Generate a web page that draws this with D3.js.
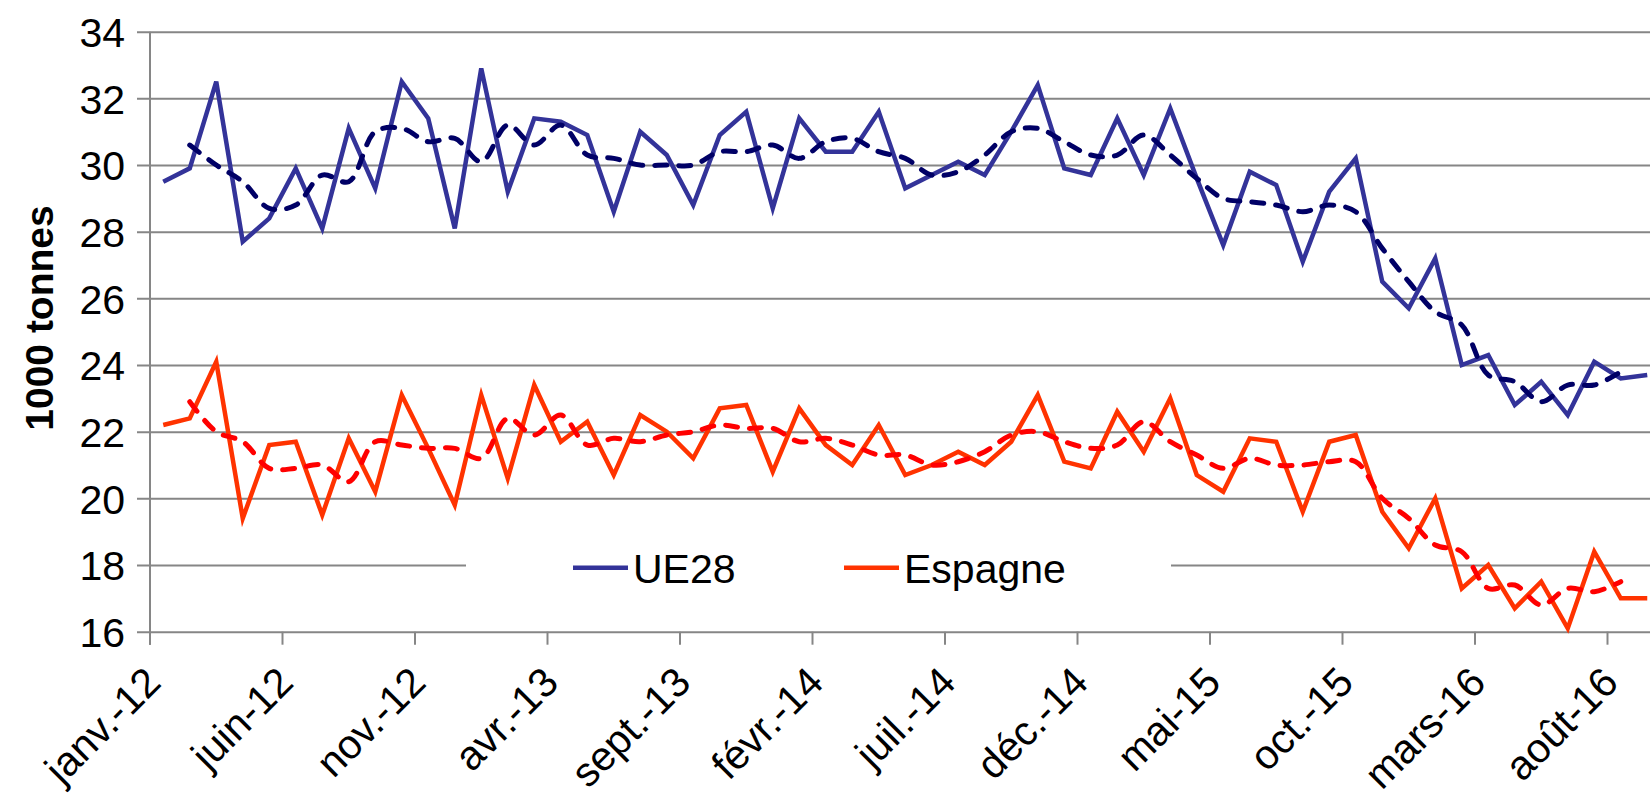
<!DOCTYPE html>
<html>
<head>
<meta charset="utf-8">
<script src="https://cdn.jsdelivr.net/npm/d3@7"></script>
<style>
body { margin: 0; background: #fff; }
svg { display: block; font-family: "Liberation Sans", Arial, sans-serif; }
</style>
</head>
<body>
<script>
/* Data */
var monthNames = ["janv.", "févr.", "mars", "avr.", "mai", "juin", "juil.", "août", "sept.", "oct.", "nov.", "déc."];
var years = ["12", "13", "14", "15", "16"];
var nMonths = 57; // janv.-12 .. sept.-16

var ue28 = [29.5, 29.9, 32.5, 27.7, 28.4, 29.9, 28.1, 31.1, 29.3, 32.5, 31.4, 28.1,
	32.9, 29.2, 31.4, 31.3, 30.9, 28.6, 31.0, 30.3, 28.8, 30.9, 31.6, 28.7,
	31.4, 30.4, 30.4, 31.6, 29.3, 29.7, 30.1, 29.7, 31.0, 32.4, 29.9, 29.7,
	31.4, 29.7, 31.7, 29.6, 27.6, 29.8, 29.4, 27.1, 29.2, 30.2, 26.5, 25.7,
	27.2, 24.0, 24.3, 22.8, 23.5, 22.5, 24.1, 23.6, 23.7];

var espagne = [22.2, 22.4, 24.1, 19.4, 21.6, 21.7, 19.5, 21.8, 20.2, 23.1, 21.5, 19.8,
	23.1, 20.6, 23.4, 21.7, 22.3, 20.7, 22.5, 22.0, 21.2, 22.7, 22.8, 20.8,
	22.7, 21.6, 21.0, 22.2, 20.7, 21.0, 21.4, 21.0, 21.7, 23.1, 21.1, 20.9,
	22.6, 21.4, 23.0, 20.7, 20.2, 21.8, 21.7, 19.6, 21.7, 21.9, 19.6, 18.5,
	20.0, 17.3, 18.0, 16.7, 17.5, 16.1, 18.4, 17.0, 17.0];

// moyennes mobiles (pointillés), de févr.-12 à août-16
var ue28Moy = [30.6, 30.0, 29.5, 28.7, 28.8, 29.7, 29.5, 31.0, 31.1, 30.7, 30.8,
	30.1, 31.2, 30.6, 31.2, 30.3, 30.2, 30.0, 30.0, 30.0, 30.4, 30.4, 30.6,
	30.2, 30.7, 30.8, 30.4, 30.2, 29.7, 29.8, 30.3, 31.0, 31.1, 30.7, 30.3,
	30.3, 30.9, 30.3, 29.6, 29.0, 28.9, 28.8, 28.6, 28.8, 28.6, 27.5, 26.5,
	25.6, 25.2, 23.7, 23.5, 22.9, 23.4, 23.4, 23.8];

var espagneMoy = [22.9, 22.0, 21.7, 20.9, 20.9, 21.0, 20.5, 21.7, 21.6, 21.5, 21.5,
	21.2, 22.4, 21.9, 22.5, 21.6, 21.8, 21.7, 21.9, 22.0, 22.2, 22.1, 22.1,
	21.7, 21.8, 21.6, 21.3, 21.3, 21.0, 21.1, 21.4, 21.9, 22.0, 21.7, 21.5,
	21.6, 22.3, 21.7, 21.3, 20.9, 21.2, 21.0, 21.0, 21.1, 21.1, 20.0, 19.4,
	18.6, 18.4, 17.3, 17.4, 16.8, 17.3, 17.2, 17.5];

var yTicks = [16, 18, 20, 22, 24, 26, 28, 30, 32, 34];
var seriesNames = ["UE28", "Espagne"];

/* Display setup */
var width = 1650, height = 807,
	plot = {left: 150, top: 31.7, bottom: 631.7, monthWidth: 26.5},
	fontSize = 41,
	gridColor = "#868686";

var months = [];
years.forEach(function(y) {
	monthNames.forEach(function(m) { months.push(m + "-" + y); });
});
months = months.slice(0, nMonths);

var x = d3.scaleBand()
	.domain(months)
	.range([plot.left, plot.left + plot.monthWidth * nMonths]);
var y = d3.scaleLinear()
	.domain([16, 34])
	.range([plot.bottom, plot.top]);

function cx(i) { return x(months[i]) + x.bandwidth() / 2; }

var svg = d3.select("body").append("svg")
	.attr("width", width)
	.attr("height", height);

/* Grid + y axis */
var yAxis = svg.append("g")
	.attr("transform", "translate(" + plot.left + ",0)")
	.call(d3.axisLeft(y).tickValues(yTicks).tickSize(-(width - plot.left)).tickPadding(25));
yAxis.select(".domain").remove();
yAxis.selectAll(".tick line")
	.attr("x1", -13)
	.attr("stroke", gridColor)
	.attr("stroke-width", 2);
yAxis.selectAll(".tick text")
	.attr("font-size", fontSize)
	.attr("fill", "#000")
	.attr("font-family", "Liberation Sans, Arial, sans-serif")
	.attr("dy", "0.36em");

svg.append("line")
	.attr("x1", plot.left).attr("x2", plot.left)
	.attr("y1", plot.top).attr("y2", plot.bottom + 13)
	.attr("stroke", gridColor)
	.attr("stroke-width", 2);

/* x axis ticks + labels */
var xTicks = months.filter(function(d, i) { return i % 5 == 0; });
var xAxis = svg.append("g").attr("class", "x-axis");
xAxis.selectAll("line")
	.data(xTicks)
	.enter().append("line")
		.attr("x1", function(d) { return x(d); })
		.attr("x2", function(d) { return x(d); })
		.attr("y1", plot.bottom)
		.attr("y2", plot.bottom + 13)
		.attr("stroke", gridColor)
		.attr("stroke-width", 2);
xAxis.selectAll("text")
	.data(xTicks)
	.enter().append("text")
		.attr("transform", function(d) { return "translate(" + (x(d) + 13) + "," + (plot.bottom + 53) + ") rotate(-45)"; })
		.attr("text-anchor", "end")
		.attr("font-size", 41)
		.text(function(d) { return d; });

/* y title */
svg.append("text")
	.attr("transform", "translate(53,318) rotate(-90)")
	.attr("text-anchor", "middle")
	.attr("font-size", 39)
	.attr("font-weight", "bold")
	.text("1000 tonnes");

/* Legend (white box hides the gridline behind) */
var legend = svg.append("g");
legend.append("rect")
	.attr("x", 466).attr("y", 540)
	.attr("width", 705).attr("height", 55)
	.attr("fill", "#fff");
var legendItems = [
	{name: seriesNames[0], color: "#333399", x: 573},
	{name: seriesNames[1], color: "#ff3300", x: 844}
];
legendItems.forEach(function(d) {
	legend.append("line")
		.attr("x1", d.x).attr("x2", d.x + 55)
		.attr("y1", 567.7).attr("y2", 567.7)
		.attr("stroke", d.color)
		.attr("stroke-width", 4.5);
	legend.append("text")
		.attr("x", d.x + 60)
		.attr("y", 582.7)
		.attr("font-size", fontSize)
		.text(d.name);
});

/* Lines */
var solidLine = d3.line()
	.x(function(d, i) { return cx(i); })
	.y(function(d) { return y(d); });
var movingLine = d3.line()
	.x(function(d, i) { return cx(i + 1); })
	.y(function(d) { return y(d); })
	.curve(d3.curveCatmullRom);

var lines = [
	{data: ue28, gen: solidLine, color: "#333399", w: 4.5, dash: null},
	{data: ue28Moy, gen: movingLine, color: "#000066", w: 5, dash: "12,12"},
	{data: espagne, gen: solidLine, color: "#ff3300", w: 4.5, dash: null},
	{data: espagneMoy, gen: movingLine, color: "#ff0000", w: 5, dash: "12,12"}
];
svg.append("g").selectAll("path")
	.data(lines)
	.enter().append("path")
		.attr("d", function(d) { return d.gen(d.data); })
		.attr("fill", "none")
		.attr("stroke", function(d) { return d.color; })
		.attr("stroke-width", function(d) { return d.w; })
		.attr("stroke-linejoin", "miter")
		.attr("stroke-linecap", function(d) { return d.dash ? "round" : "butt"; })
		.attr("stroke-dasharray", function(d) { return d.dash; });
</script>
</body>
</html>
